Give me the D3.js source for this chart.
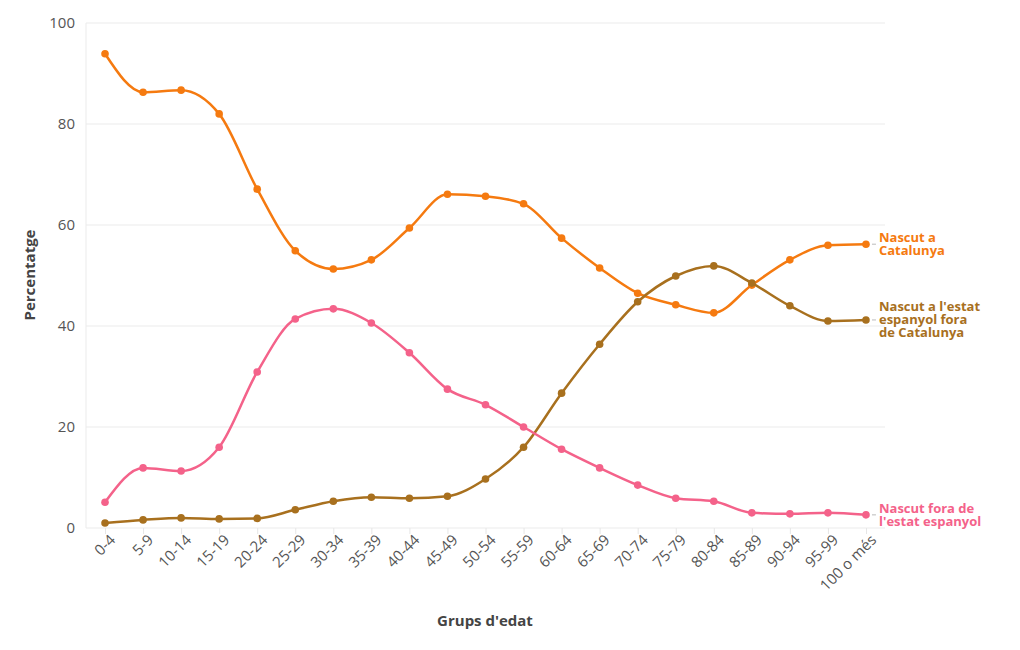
<!DOCTYPE html>
<html><head><meta charset="utf-8">
<script src="https://cdn.jsdelivr.net/npm/d3@7"></script>
<style>
body{margin:0;background:#fff;}
svg text{font-family:"Open Sans","Noto Sans",sans-serif;}
</style></head>
<body><svg id="c" width="1020" height="650"></svg>
<script>
const categories = ["0-4","5-9","10-14","15-19","20-24","25-29","30-34","35-39","40-44","45-49","50-54","55-59","60-64","65-69","70-74","75-79","80-84","85-89","90-94","95-99","100 o més"];
const catalunya = [93.9,86.3,86.7,82.0,67.1,54.9,51.3,53.1,59.4,66.1,65.7,64.2,57.4,51.5,46.5,44.2,42.6,48.1,53.1,56.0,56.2];
const espanya = [1.0,1.6,2.0,1.8,1.9,3.6,5.3,6.1,5.9,6.3,9.7,16.0,26.7,36.4,44.8,49.9,51.9,48.5,44.0,41.0,41.2];
const estranger = [5.1,11.9,11.3,16.0,30.9,41.4,43.4,40.6,34.7,27.5,24.4,20.0,15.6,11.9,8.5,5.9,5.3,3.0,2.8,3.0,2.6];
const yTicks = [0,20,40,60,80,100];
const seriesNames = [["Nascut a","Catalunya"],["Nascut a l'estat","espanyol fora","de Catalunya"],["Nascut fora de","l'estat espanyol"]];
const seriesColors = ["#f57a10","#a8701e","#f4628a"];

const series = [catalunya, espanya, estranger];
const svg = d3.select("#c");
const m = {l:86, r:885, t:23, b:528};
const x = d3.scalePoint().domain(categories).range([m.l, m.r]).padding(0.5);
const y = d3.scaleLinear().domain([0,100]).range([m.b, m.t]);

// gridlines
svg.append("g").selectAll("line").data(yTicks).join("line")
  .attr("x1", m.l).attr("x2", m.r).attr("y1", d=>y(d)).attr("y2", d=>y(d))
  .attr("stroke", "#ebebeb").attr("stroke-width", 1);
svg.append("line").attr("x1", m.l).attr("x2", m.l).attr("y1", m.t).attr("y2", m.b)
  .attr("stroke", "#ebebeb");

// y axis
const ya = svg.append("g").attr("transform", `translate(${m.l},0)`)
  .call(d3.axisLeft(y).tickValues(yTicks).tickSize(0).tickPadding(11));
ya.select(".domain").remove();
ya.selectAll("text").attr("font-size", 15).attr("fill", "#555");

// x axis
const xa = svg.append("g").attr("transform", `translate(0,${m.b})`)
  .call(d3.axisBottom(x).tickSize(6).tickPadding(4));
xa.select(".domain").remove();
xa.selectAll("line").attr("stroke", "#e6e6e6");
xa.selectAll("text").attr("font-size", 15).attr("fill", "#555")
  .attr("text-anchor", "end").attr("dx", "-0.1em").attr("dy", "0.45em")
  .attr("transform", "rotate(-45)");

// axis titles
svg.append("text").attr("x", 485).attr("y", 626).attr("text-anchor", "middle")
  .attr("font-size", 15).attr("font-weight", "bold").attr("fill", "#444").text("Grups d'edat");
svg.append("text").attr("transform", "translate(35,275) rotate(-90)").attr("text-anchor", "middle")
  .attr("font-size", 15).attr("font-weight", "bold").attr("fill", "#444").text("Percentatge");

const line = d3.line().x((d,i)=>x(categories[i])).y(d=>y(d)).curve(d3.curveMonotoneX);

series.forEach((s, k) => {
  const g = svg.append("g");
  g.append("path").datum(s).attr("d", line).attr("fill", "none")
    .attr("stroke", seriesColors[k]).attr("stroke-width", 2.5);
  g.selectAll("circle").data(s).join("circle")
    .attr("cx", (d,i)=>x(categories[i])).attr("cy", d=>y(d)).attr("r", 3.8)
    .attr("fill", seriesColors[k]);
  const last = s[s.length-1];
  const lx = x(categories[categories.length-1]);
  const ly = y(last);
  g.append("line").attr("x1", lx+6).attr("x2", lx+10).attr("y1", ly).attr("y2", ly)
    .attr("stroke", "#bbb").attr("stroke-width", 1);
  const lines = seriesNames[k];
  const lh = 13;
  lines.forEach((ln, j) => {
    g.append("text").attr("x", lx+13)
      .attr("y", ly + (j - (lines.length-1)/2)*lh + 4.5)
      .attr("font-size", 13).attr("font-weight", "bold")
      .attr("fill", seriesColors[k]).text(ln);
  });
});
</script></body></html>
